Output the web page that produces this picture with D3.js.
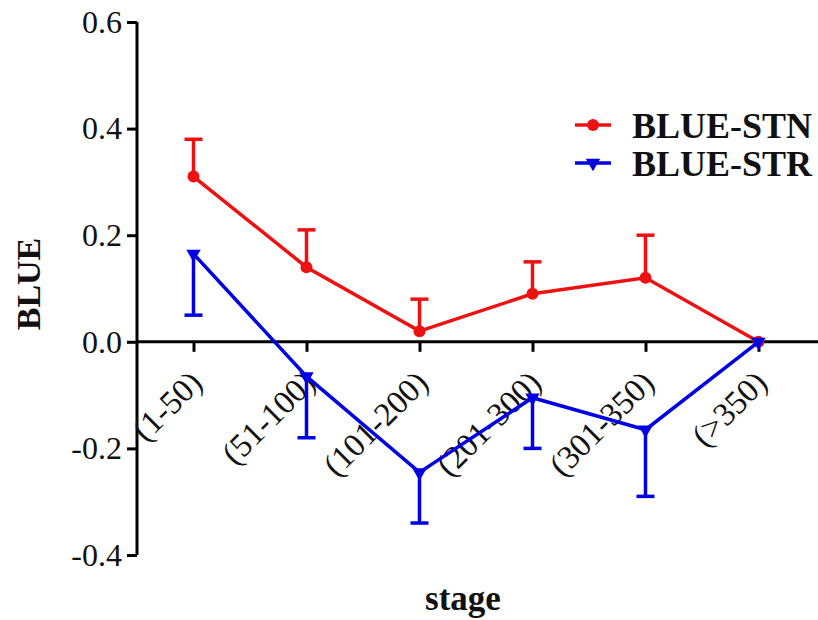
<!DOCTYPE html>
<html>
<head>
<meta charset="utf-8">
<script src="https://cdn.jsdelivr.net/npm/d3@7"></script>
<style>
  body { margin: 0; background: #fff; }
</style>
</head>
<body>
<div id="vis"></div>
<script>
// data
var stages = ["(1-50)", "(51-100)", "(101-200)", "(201-300)", "(301-350)", "(>350)"];
var stnMean = [0.31, 0.14, 0.02, 0.09, 0.12, 0.0];
var stnErr  = [0.07, 0.07, 0.06, 0.06, 0.08, 0.0];
var strMean = [0.165, -0.065, -0.245, -0.105, -0.165, 0.0];
var strErr  = [0.115, 0.115, 0.095, 0.095, 0.125, 0.0];
var yTicks = [-0.4, -0.2, 0.0, 0.2, 0.4, 0.6];

var width = 818, height = 620;
var margin = {top: 22, right: 3, bottom: 65, left: 137};
var serif = "'Liberation Serif'";

var svg = d3.select("#vis").append("svg")
    .attr("width", width)
    .attr("height", height);

var x = d3.scalePoint().domain(stages)
    .range([margin.left, width - margin.right]).padding(0.5);
var y = d3.scaleLinear().domain([-0.4, 0.6])
    .range([555, margin.top]);

var red = "#ee1111", blue = "#0000e6";

// y axis
var yAxis = svg.append("g")
    .attr("transform", "translate(" + margin.left + ",0)")
    .call(d3.axisLeft(y).tickValues(yTicks).tickSize(10).tickPadding(5));
yAxis.attr("font-family", null);
yAxis.select(".domain").attr("stroke-width", 3).attr("d", "M0," + y(0.6) + "V" + y(-0.4));
yAxis.selectAll(".tick line").attr("stroke-width", 3);
yAxis.selectAll(".tick text").style("font-family", serif).attr("font-size", 32).attr("fill", "#111")
    .text(function(d) { return d3.format(".1f")(d).replace("\u2212", "-"); });

// x axis at zero
var xAxis = svg.append("g")
    .attr("transform", "translate(0," + y(0) + ")")
    .call(d3.axisBottom(x).tickSize(10).tickSizeOuter(0));
xAxis.attr("font-family", null);
xAxis.select(".domain").attr("stroke-width", 3).attr("d", "M" + margin.left + ",0H" + width);
xAxis.selectAll(".tick line").attr("stroke-width", 3);
xAxis.selectAll(".tick text")
    .style("font-family", serif)
    .attr("font-size", 33).attr("fill", "#111")
    .attr("text-anchor", "end")
    .attr("y", 0).attr("dy", 0)
    .attr("transform", "translate(10,43) rotate(-45)");

var line = d3.line()
    .x(function(d, i) { return x(stages[i]); })
    .y(function(d) { return y(d); });

// STN (red) - error bars upward
var gRed = svg.append("g");
stnMean.forEach(function(d, i) {
  if (stnErr[i] <= 0) return;
  var cx = x(stages[i]);
  gRed.append("line").attr("x1", cx).attr("x2", cx).attr("y1", y(d)).attr("y2", y(d + stnErr[i]))
    .attr("stroke", red).attr("stroke-width", 3.5);
  gRed.append("line").attr("x1", cx - 9).attr("x2", cx + 9).attr("y1", y(d + stnErr[i])).attr("y2", y(d + stnErr[i]))
    .attr("stroke", red).attr("stroke-width", 3.5);
});
gRed.append("path").datum(stnMean).attr("d", line)
    .attr("fill", "none").attr("stroke", red).attr("stroke-width", 3.5);
gRed.selectAll("circle").data(stnMean).enter().append("circle")
    .attr("cx", function(d, i) { return x(stages[i]); })
    .attr("cy", function(d) { return y(d); })
    .attr("r", 6).attr("fill", red);

// STR (blue) - error bars downward
var tri = d3.symbol().type(d3.symbolTriangle).size(90);
var gBlue = svg.append("g");
strMean.forEach(function(d, i) {
  if (strErr[i] <= 0) return;
  var cx = x(stages[i]);
  gBlue.append("line").attr("x1", cx).attr("x2", cx).attr("y1", y(d)).attr("y2", y(d - strErr[i]))
    .attr("stroke", blue).attr("stroke-width", 3.5);
  gBlue.append("line").attr("x1", cx - 9).attr("x2", cx + 9).attr("y1", y(d - strErr[i])).attr("y2", y(d - strErr[i]))
    .attr("stroke", blue).attr("stroke-width", 3.5);
});
gBlue.append("path").datum(strMean).attr("d", line)
    .attr("fill", "none").attr("stroke", blue).attr("stroke-width", 3.5);
gBlue.selectAll(".tri").data(strMean).enter().append("path")
    .attr("d", tri)
    .attr("transform", function(d, i) { return "translate(" + x(stages[i]) + "," + y(d) + ") rotate(180)"; })
    .attr("fill", blue);

// legend
var legend = svg.append("g");
var legendItems = [["BLUE-STN", red, "circle"], ["BLUE-STR", blue, "tri"]];
legendItems.forEach(function(it, i) {
  var ly = 125 + i * 38;
  legend.append("line").attr("x1", 575).attr("x2", 611).attr("y1", ly).attr("y2", ly)
    .attr("stroke", it[1]).attr("stroke-width", 3.5);
  if (it[2] === "circle") {
    legend.append("circle").attr("cx", 593).attr("cy", ly).attr("r", 6).attr("fill", it[1]);
  } else {
    legend.append("path").attr("d", tri).attr("transform", "translate(593," + ly + ") rotate(180)").attr("fill", it[1]);
  }
  legend.append("text").attr("x", 632).attr("y", ly).attr("dy", "0.35em")
    .style("font-family", serif)
    .attr("font-size", 36).attr("font-weight", "bold").attr("fill", "#111").text(it[0]);
});

// axis titles
svg.append("text")
    .attr("transform", "translate(40,284) rotate(-90)")
    .attr("text-anchor", "middle")
    .style("font-family", serif)
    .attr("font-size", 34).attr("font-weight", "bold").attr("fill", "#111")
    .text("BLUE");
svg.append("text")
    .attr("x", 463).attr("y", 610)
    .attr("text-anchor", "middle")
    .style("font-family", serif)
    .attr("font-size", 35).attr("font-weight", "bold").attr("fill", "#111")
    .text("stage");
</script>
</body>
</html>
